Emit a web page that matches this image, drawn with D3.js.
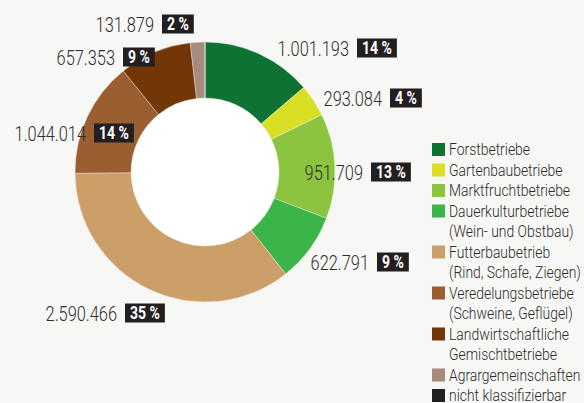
<!DOCTYPE html>
<html>
<head>
<meta charset="utf-8">
<script src="https://cdn.jsdelivr.net/npm/d3@7"></script>
<style>
  html, body { margin: 0; padding: 0; background: #f7f7f5; }
  svg { display: block; }
  .num { font-family: Roboto, sans-serif; font-weight: 300; fill: #2e2e2e; }
  .pct { font-family: Roboto, sans-serif; font-weight: bold; fill: #fff; }
  .leg { font-family: Roboto, sans-serif; font-weight: 300; fill: #2a2a2a; }
</style>
</head>
<body>
<svg id="chart" width="584" height="403"></svg>
<script>
// data
const categories = [
    ["Forstbetriebe"],
    ["Gartenbaubetriebe"],
    ["Marktfruchtbetriebe"],
    ["Dauerkulturbetriebe", "(Wein- und Obstbau)"],
    ["Futterbaubetrieb", "(Rind, Schafe, Ziegen)"],
    ["Veredelungsbetriebe", "(Schweine, Geflügel)"],
    ["Landwirtschaftliche", "Gemischtbetriebe"],
    ["Agrargemeinschaften"],
    ["nicht klassifizierbar"]
];
const values  = [1001193, 293084, 951709, 622791, 2590466, 1044014, 657353, 131879, 0];
const valueLabels = ["1.001.193", "293.084", "951.709", "622.791", "2.590.466", "1.044.014", "657.353", "131.879", null];
const pctLabels   = ["14 %", "4 %", "13 %", "9 %", "35 %", "14 %", "9 %", "2 %", null];
const colors = ["#0e7232", "#d8df24", "#8cc43f", "#3bb54a", "#cd9f68", "#9b5e31", "#733707", "#a58a7e", "#231f20"];

// where each value label meets its percent box (hand placed in the original)
const labelAnchors = [[353, 48], [386, 98], [367, 172], [373, 262], [121, 313], [90, 133], [119, 57], [158, 24], null];

const svg = d3.select("#chart");
const cx = 205, cy = 172;
const rOuter = 130, rInner = 74;

const pie = d3.pie().sort(null).value(d => d);
const arc = d3.arc().innerRadius(rInner).outerRadius(rOuter);

const g = svg.append("g").attr("transform", `translate(${cx},${cy})`);

g.append("circle").attr("r", rInner).attr("fill", "#fff");

g.selectAll("path.slice")
    .data(pie(values))
    .enter()
    .append("path")
    .attr("class", "slice")
    .attr("d", arc)
    .attr("fill", (d, i) => colors[i])
    .attr("stroke", "#f2f2ee")
    .attr("stroke-width", 0.4);

// the original uses a condensed face, so squeeze Roboto horizontally
function narrowText(parent, cls, x, y, size, s, sq, anchor) {
    return parent.append("text")
        .attr("class", cls)
        .attr("transform", `translate(${x},${y}) scale(${sq},1)`)
        .attr("text-anchor", anchor || "start")
        .style("font-size", size + "px")
        .text(s);
}

// value + percentage labels
const labels = svg.append("g");
labelAnchors.forEach((p, i) => {
    if (!p) return;
    const row = labels.append("g").attr("transform", `translate(${p[0]},${p[1]})`);
    narrowText(row, "num", -4, 7.5, 20.5, valueLabels[i], 0.8, "end");
    const box = row.append("rect")
        .attr("x", 4).attr("y", -9.5)
        .attr("height", 19)
        .attr("fill", "#231f20");
    const t = narrowText(row, "pct", 9, 6.3, 17.5, pctLabels[i], 0.8);
    const w = t.node().getComputedTextLength() * 0.8;
    box.attr("width", w + 10);
});

// legend
const LINE = 20.5;
const legend = svg.append("g").attr("transform", "translate(432,143)");
let line = 0;
categories.forEach((lines, i) => {
    const row = legend.append("g").attr("transform", `translate(0,${line * LINE})`);
    row.append("rect").attr("width", 13).attr("height", 13).attr("fill", colors[i]);
    lines.forEach((s, j) => {
        narrowText(row, "leg", 17, 12 + j * LINE, 16.2, s, 0.86);
    });
    line += lines.length;
});
</script>
</body>
</html>
